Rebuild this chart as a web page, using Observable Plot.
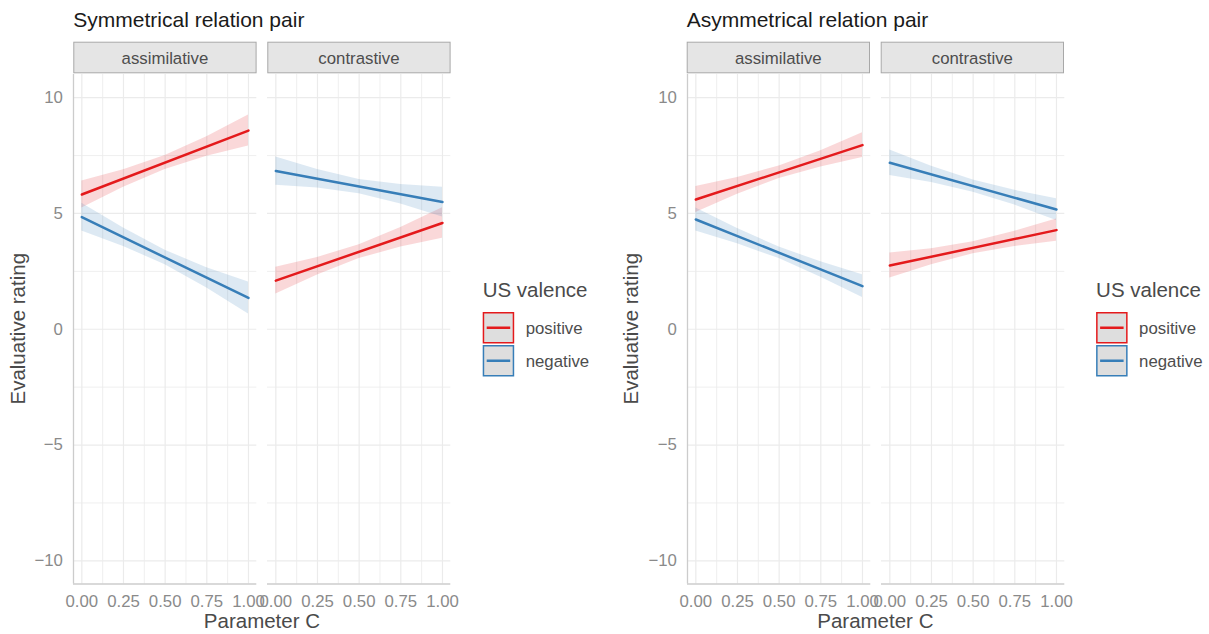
<!DOCTYPE html>
<html>
<head>
<meta charset="utf-8">
<script src="https://cdn.jsdelivr.net/npm/d3@7"></script>
<script src="https://cdn.jsdelivr.net/npm/@observablehq/plot@0.6"></script>
<style>
  html, body { margin: 0; padding: 0; background: #fff; }
  #root { position: relative; width: 1209px; height: 634px; overflow: hidden; font-family: "Liberation Sans", Arial, sans-serif; }
  #root svg.panel { position: absolute; }
  #overlay { position: absolute; left: 0; top: 0; pointer-events: none; }
</style>
</head>
<body>
<div id="root"></div>
<script>
// ---------- data ----------
const groups = ["Symmetrical relation pair", "Asymmetrical relation pair"];
const facets = ["assimilative", "contrastive"];
const valences = ["positive", "negative"];
const colors = ["#E41A1C", "#377EB8"];
const legendTitle = "US valence";
const xTitle = "Parameter C";
const yTitle = "Evaluative rating";

const xTicks = [0, 0.25, 0.5, 0.75, 1];
const xMinor = [0.125, 0.375, 0.625, 0.875];
const yTicks = [-10, -5, 0, 5, 10];
const yMinor = [-7.5, -2.5, 2.5, 7.5];
const xDomain = [-0.05, 1.05];
const yDomain = [-11, 11];

// x positions at which the confidence band was read
const bandX = [0, 0.25, 0.5, 0.75, 1];

// series: group index, facet index, valence index
const seriesGroup   = [0, 0, 0, 0, 1, 1, 1, 1];
const seriesFacet   = [0, 0, 1, 1, 0, 0, 1, 1];
const seriesValence = [0, 1, 0, 1, 0, 1, 0, 1];
// fitted line at Parameter C = 0 and = 1
const fitStart = [5.82, 4.84, 2.10, 6.83, 5.60, 4.74, 2.75, 7.19];
const fitEnd   = [8.58, 1.35, 4.59, 5.49, 7.95, 1.86, 4.28, 5.17];
// confidence band (lower / upper) at bandX
const bandLow = [
  [5.24, 6.13, 6.90, 7.47, 7.91],
  [4.24, 3.57, 2.79, 1.78, 0.66],
  [1.52, 2.34, 3.05, 3.55, 3.93],
  [6.22, 6.10, 5.85, 5.41, 4.85],
  [5.04, 5.83, 6.51, 7.01, 7.42],
  [4.24, 3.69, 3.05, 2.25, 1.37],
  [2.21, 2.78, 3.26, 3.57, 3.80],
  [6.64, 6.34, 5.92, 5.36, 4.70]
];
const bandHigh = [
  [6.40, 6.89, 7.50, 8.31, 9.25],
  [5.44, 4.37, 3.41, 2.66, 2.04],
  [2.68, 3.10, 3.65, 4.39, 5.25],
  [7.44, 6.90, 6.47, 6.25, 6.13],
  [6.16, 6.55, 7.05, 7.71, 8.48],
  [5.24, 4.35, 3.55, 2.91, 2.35],
  [3.29, 3.48, 3.78, 4.23, 4.76],
  [7.74, 7.04, 6.44, 6.00, 5.64]
];

// ---------- layout ----------
const panelLefts = [[73.3, 267.3], [686.7, 880.7]];
const panelW = 183.3;
const panelTop = 74;
const panelH = 509.5;
const halfOffset = 613.4;

const tickColor = "#8a8a8a";
const titleColor = "#4a4a4a";
const gridColor = "#ebebeb";
const axisLineColor = "#cccccc";
const fontFamily = '"Liberation Sans", Arial, sans-serif';

const minusFmt = d => d < 0 ? "\u2212" + Math.abs(d) : String(d);
const xFmt = d3.format(".2f");

const root = document.getElementById("root");

function makePanel(g, f) {
  const showY = f === 0;
  const left = panelLefts[g][f];
  const ml = showY ? left - (g === 0 ? 0 : 613.4 - 0) : 24;
  const marginLeft = showY ? 60 : 24;
  const marginRight = 24, marginTop = 4, marginBottom = 36;
  const marks = [
    Plot.ruleX(xMinor, {stroke: gridColor, strokeWidth: 0.8}),
    Plot.ruleX(xTicks, {stroke: gridColor, strokeWidth: 1.2}),
    Plot.ruleY(yMinor, {stroke: gridColor, strokeWidth: 0.8}),
    Plot.ruleY(yTicks, {stroke: gridColor, strokeWidth: 1.2})
  ];
  for (let i = 0; i < fitStart.length; i++) {
    if (seriesGroup[i] !== g || seriesFacet[i] !== f) continue;
    const c = colors[seriesValence[i]];
    const band = bandX.map((x, k) => ({x, lo: bandLow[i][k], hi: bandHigh[i][k]}));
    const fit = [
      {x: bandX[0], y: fitStart[i]},
      {x: bandX[bandX.length - 1], y: fitEnd[i]}
    ];
    marks.push(Plot.areaY(band, {x: "x", y1: "lo", y2: "hi", fill: c, fillOpacity: 0.17}));
    marks.push(Plot.line(fit, {x: "x", y: "y", stroke: c, strokeWidth: 2.5}));
  }
  marks.push(Plot.ruleY([yDomain[0]], {stroke: axisLineColor, strokeWidth: 1.3}));
  if (showY) marks.push(Plot.ruleX([xDomain[0]], {stroke: axisLineColor, strokeWidth: 1.3}));

  const svg = Plot.plot({
    width: marginLeft + panelW + marginRight,
    height: marginTop + panelH + marginBottom,
    marginLeft, marginRight, marginTop, marginBottom,
    style: {background: "transparent", overflow: "visible", fontSize: "16.8px", fontFamily, color: tickColor},
    x: {domain: xDomain, ticks: xTicks, tickFormat: xFmt, tickSize: 0, tickPadding: 11, label: null},
    y: {domain: yDomain, ticks: yTicks, tickFormat: minusFmt, tickSize: 0, tickPadding: 10.6, label: null, axis: showY ? "left" : null},
    marks
  });
  svg.classList.add("panel");
  svg.style.left = (left - marginLeft) + "px";
  svg.style.top = (panelTop - marginTop) + "px";
  root.appendChild(svg);
}

for (let g = 0; g < groups.length; g++)
  for (let f = 0; f < facets.length; f++) makePanel(g, f);

// ---------- annotations: titles, strips, axis titles, legend ----------
const ov = d3.select(root).append("svg")
  .attr("id", "overlay").attr("width", 1209).attr("height", 634)
  .style("font-family", fontFamily);

groups.forEach((name, g) => {
  const off = g * halfOffset;
  ov.append("text").attr("x", panelLefts[g][0]).attr("y", 27)
    .attr("font-size", 21).attr("fill", "#1a1a1a").text(name);

  facets.forEach((fname, f) => {
    const l = panelLefts[g][f];
    ov.append("rect").attr("x", l + 0.5).attr("y", 42.2).attr("width", panelW - 1).attr("height", 30.6)
      .attr("fill", "#e5e5e5").attr("stroke", "#a8a8a8").attr("stroke-width", 1);
    ov.append("text").attr("x", l + panelW / 2).attr("y", 63.6)
      .attr("text-anchor", "middle").attr("font-size", 16.8).attr("fill", "#4d4d4d").text(fname);
  });

  const cx = (panelLefts[g][0] + panelLefts[g][1] + panelW) / 2;
  ov.append("text").attr("x", cx).attr("y", 628.3).attr("text-anchor", "middle")
    .attr("font-size", 20.5).attr("fill", titleColor).text(xTitle);
  ov.append("text").attr("transform", `translate(${25 + off},${panelTop + panelH / 2}) rotate(-90)`)
    .attr("text-anchor", "middle").attr("font-size", 20.5).attr("fill", titleColor).text(yTitle);

  // legend
  const lx = 482.7 + off;
  ov.append("text").attr("x", lx).attr("y", 297).attr("font-size", 20.5).attr("fill", titleColor).text(legendTitle);
  valences.forEach((v, k) => {
    const ky = 312 + k * 33;
    ov.append("rect").attr("x", lx + 0.75).attr("y", ky + 0.75).attr("width", 30).attr("height", 30)
      .attr("fill", "#dedede").attr("stroke", colors[k]).attr("stroke-width", 1.5);
    ov.append("line").attr("x1", lx + 4).attr("x2", lx + 27.5).attr("y1", ky + 15.75).attr("y2", ky + 15.75)
      .attr("stroke", colors[k]).attr("stroke-width", 2.5);
    ov.append("text").attr("x", lx + 43).attr("y", ky + 15.75).attr("dy", "0.35em")
      .attr("font-size", 16.8).attr("fill", "#4d4d4d").text(v);
  });
});
</script>
</body>
</html>
